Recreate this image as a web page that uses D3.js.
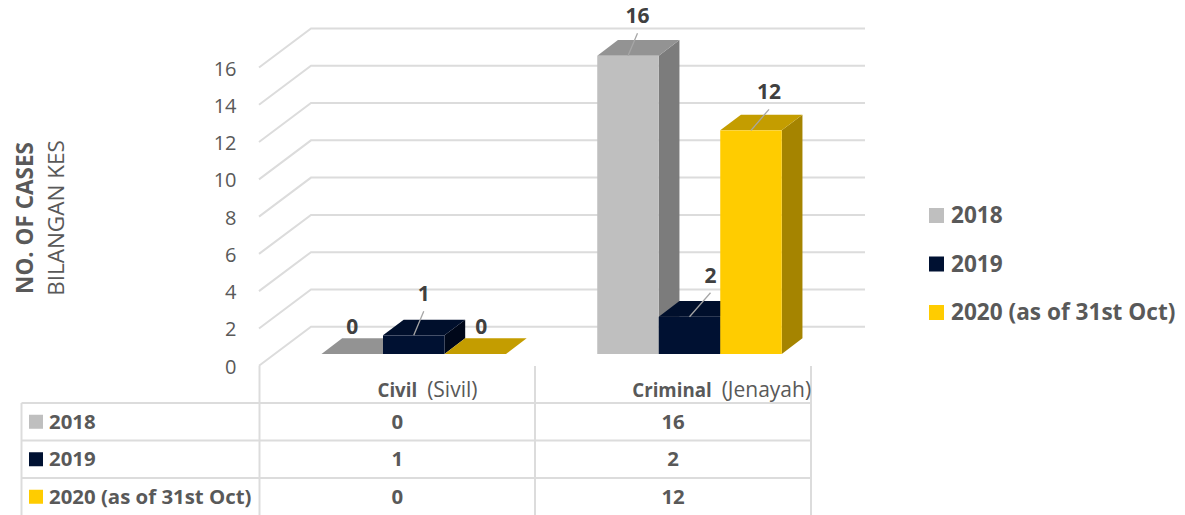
<!DOCTYPE html>
<html>
<head>
<meta charset="utf-8">
<script src="https://cdn.jsdelivr.net/npm/d3@7"></script>
<style>
html, body { margin: 0; padding: 0; background: #fff; overflow: hidden; }
text { font-family: "Open Sans", sans-serif; }
</style>
</head>
<body>
<div id="chart"></div>
<script>
// Chart data
const categories = ['Civil', 'Criminal'];
const categoryLabels = ['(Sivil)', '(Jenayah)'];
const seriesNames = ['2018', '2019', '2020 (as of 31st Oct)'];
const values2018 = [0, 16];
const values2019 = [1, 2];
const values2020 = [0, 12];
const yTicks = [0, 2, 4, 6, 8, 10, 12, 14, 16];

const allValues = [values2018, values2019, values2020];
const frontColors = ['#bfbfbf', '#001132', '#ffcc00'];
const topColors = ['#939393', '#000f2c', '#c49d00'];
const sideColors = ['#7c7c7c', '#00081a', '#a58400'];

const width = 1185, height = 515;
const svg = d3.select('#chart').append('svg')
    .attr('width', width)
    .attr('height', height)
    .style('display', 'block');

// Scales for the front plane
const x = d3.scaleBand().domain(categories).range([259.5, 811]);
const y = d3.scaleLinear().domain([0, 16]).range([365.7, 67.5]);
const barX = d3.scaleBand().domain(d3.range(3)).range([62, 246.5]);

// 3D offsets
const wallDx = 52, wallDy = -39;
const barShiftY = -11.7;
const depthDx = 20.7, depthDy = -15.7;

const gridColor = '#dcdcdc';

// Walls
const grid = svg.append('g').attr('fill', 'none').attr('stroke', gridColor).attr('stroke-width', 2);
grid.selectAll('path')
    .data(yTicks)
    .enter()
    .append('path')
    .attr('d', d => `M259,${y(d)}L${259 + wallDx},${y(d) + wallDy}H865`);

// Tick labels
svg.append('g').selectAll('text')
    .data(yTicks)
    .enter()
    .append('text')
    .attr('x', 236.5)
    .attr('y', d => y(d) + 8)
    .attr('text-anchor', 'end')
    .attr('fill', '#595959')
    .style('font-size', '20px')
    .text(d => d);

// Bars, one series at a time so the later bars hide the side of the earlier ones
const barGroup = svg.append('g');
allValues.forEach((vals, si) => {
    categories.forEach((c, ci) => {
        const v = vals[ci];
        const x0 = x(c) + barX(si);
        const x1 = x0 + barX.bandwidth();
        const yb = y(0) + barShiftY;
        const yt = y(v) + barShiftY;
        const g = barGroup.append('g');
        g.append('path')
            .attr('d', `M${x1},${yb}L${x1 + depthDx},${yb + depthDy}V${yt + depthDy}L${x1},${yt}Z`)
            .attr('fill', sideColors[si]);
        g.append('path')
            .attr('d', `M${x0},${yt}L${x0 + depthDx},${yt + depthDy}H${x1 + depthDx}L${x1},${yt}Z`)
            .attr('fill', topColors[si]);
        if (v > 0) {
            g.append('rect')
                .attr('x', x0)
                .attr('y', yt)
                .attr('width', x1 - x0)
                .attr('height', yb - yt)
                .attr('fill', frontColors[si]);
        }
    });
});

// Data labels with leader lines
const labelOffsets = [
    { c: 'Civil', si: 0, dx: 0, dy: -20, leader: false },
    { c: 'Civil', si: 1, dx: 10, dy: -34, leader: true },
    { c: 'Civil', si: 2, dx: 6, dy: -20, leader: false },
    { c: 'Criminal', si: 0, dx: 9.5, dy: -32.5, leader: true },
    { c: 'Criminal', si: 1, dx: 21, dy: -34, leader: true },
    { c: 'Criminal', si: 2, dx: 18, dy: -31, leader: true }
];
labelOffsets.forEach(l => {
    const v = allValues[l.si][categories.indexOf(l.c)];
    const cx = x(l.c) + barX(l.si) + barX.bandwidth() / 2;
    const yt = y(v) + barShiftY;
    if (l.leader) {
        svg.append('line')
            .attr('x1', cx)
            .attr('y1', yt)
            .attr('x2', cx + l.dx)
            .attr('y2', yt + l.dy + 10)
            .attr('stroke', '#a6a6a6')
            .attr('stroke-width', 1.3);
    }
    svg.append('text')
        .attr('x', cx + l.dx)
        .attr('y', yt + l.dy)
        .attr('text-anchor', 'middle')
        .attr('fill', '#404040')
        .style('font-size', '21px')
        .style('font-weight', 700)
        .text(v);
});

// Axis title
const axisTitle = svg.append('text')
    .attr('transform', 'translate(33,218) rotate(-90)')
    .attr('text-anchor', 'middle')
    .attr('fill', '#595959')
    .style('font-size', '22.5px');
axisTitle.append('tspan').attr('x', 0).attr('y', 0).style('font-weight', 700).text('NO. OF CASES');
axisTitle.append('tspan').attr('x', 0).attr('y', 30.5).text('BILANGAN KES');

// Legend on the right
const legendY = d3.scalePoint().domain(seriesNames).range([215.5, 312.5]);
const legend = svg.append('g').selectAll('g')
    .data(seriesNames)
    .enter()
    .append('g')
    .attr('transform', d => `translate(929,${legendY(d)})`);
legend.append('rect')
    .attr('y', -7.5)
    .attr('width', 15)
    .attr('height', 15)
    .attr('fill', (d, i) => frontColors[i]);
legend.append('text')
    .attr('x', 22)
    .attr('y', 7.5)
    .attr('fill', '#595959')
    .style('font-size', '22.6px')
    .style('font-weight', 700)
    .text(d => d);

// Data table
const tableRows = d3.scaleBand().domain(seriesNames).range([403, 515.5]);
const tableLines = svg.append('g').attr('stroke', gridColor).attr('stroke-width', 2);
[403, 440.5, 478].forEach(yy => {
    tableLines.append('line').attr('x1', 21.5).attr('x2', 811).attr('y1', yy).attr('y2', yy);
});
tableLines.append('line').attr('x1', 21.5).attr('x2', 21.5).attr('y1', 403).attr('y2', 515);
[259.5, 535, 811].forEach(xx => {
    tableLines.append('line').attr('x1', xx).attr('x2', xx).attr('y1', 366).attr('y2', 515);
});

// Category names sit right of the band centre in the original
const categoryStart = [118, 97];
categories.forEach((c, i) => {
    const t = svg.append('text')
        .attr('x', x(c) + categoryStart[i])
        .attr('y', 397)
        .attr('fill', '#595959');
    t.append('tspan').style('font-weight', 700).style('font-size', '18.7px').text(c);
    t.append('tspan').attr('dx', 10).style('font-size', '21px').text(categoryLabels[i]);
});

const rows = svg.append('g').selectAll('g')
    .data(seriesNames)
    .enter()
    .append('g')
    .attr('transform', d => `translate(0,${tableRows(d) + tableRows.bandwidth() / 2})`);
rows.append('rect')
    .attr('x', 29)
    .attr('y', -7)
    .attr('width', 14)
    .attr('height', 14)
    .attr('fill', (d, i) => frontColors[i]);
rows.append('text')
    .attr('x', 49)
    .attr('y', 7)
    .attr('fill', '#595959')
    .style('font-size', '20.4px')
    .style('font-weight', 700)
    .text(d => d);
categories.forEach((c, ci) => {
    rows.append('text')
        .attr('x', x(c) + x.bandwidth() / 2)
        .attr('y', 7)
        .attr('text-anchor', 'middle')
        .attr('fill', '#595959')
        .style('font-size', '20.4px')
        .style('font-weight', 700)
        .text((d, i) => allValues[i][ci]);
});
</script>
</body>
</html>
